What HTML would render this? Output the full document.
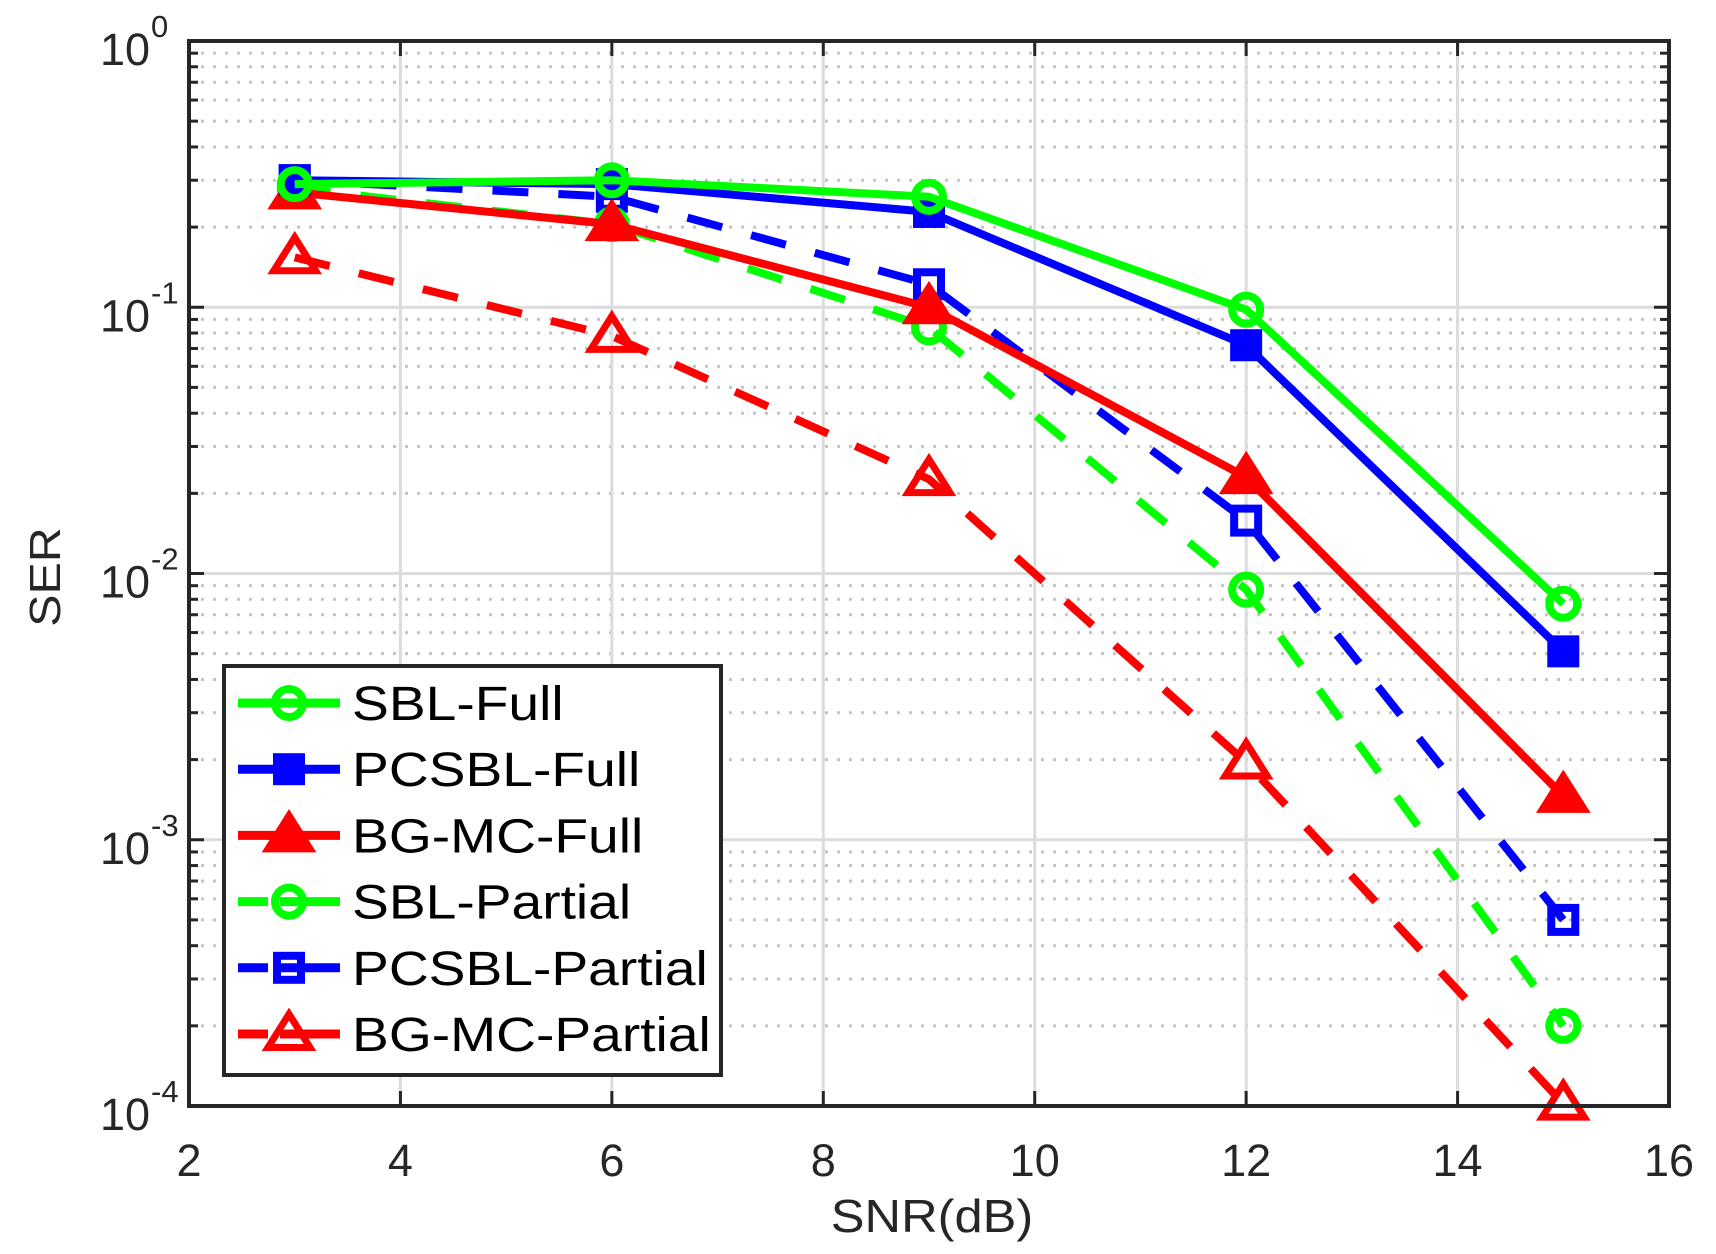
<!DOCTYPE html>
<html><head><meta charset="utf-8"><style>
html,body{margin:0;padding:0;background:#fff;}
svg{display:block;font-family:"Liberation Sans",Arial,sans-serif;}
</style></head><body>
<svg id="chart" width="1716" height="1254" viewBox="0 0 1716 1254" xmlns="http://www.w3.org/2000/svg">
<rect x="0" y="0" width="1716" height="1254" fill="#fff"/>
<g id="grid"></g>
<g id="series"></g>
<g id="axes"></g>
<g id="legend"></g>
<text x="0" y="0" font-size="46" fill="#262626" text-anchor="middle" transform="translate(932,1232) scale(1.1,1)">SNR(dB)</text>
<text x="0" y="0" font-size="44" fill="#262626" text-anchor="middle" transform="translate(60,577) rotate(-90) scale(1.1,1)">SER</text>
</svg>
<script>
const snr = [3, 6, 9, 12, 15];
const xTicks = [2, 4, 6, 8, 10, 12, 14, 16];
const yTickExps = [0, -1, -2, -3, -4];
const seriesNames = ["SBL-Full","PCSBL-Full","BG-MC-Full","SBL-Partial","PCSBL-Partial","BG-MC-Partial"];
const sblFull = [0.29, 0.30, 0.26, 0.098, 0.0077];
const pcsblFull = [0.30, 0.29, 0.228, 0.072, 0.0051];
const bgmcFull = [0.27, 0.205, 0.10, 0.023, 0.00146];
const sblPartial = [0.28, 0.205, 0.084, 0.0087, 0.0002];
const pcsblPartial = [0.30, 0.26, 0.122, 0.0158, 0.0005];
const bgmcPartial = [0.154, 0.078, 0.0226, 0.00195, 0.000102];

const NS = "http://www.w3.org/2000/svg";
const L = 189, R = 1669, T = 41, B = 1106;
const xMin = 2, xMax = 16, yMinE = -4, yMaxE = 0;
function xs(v){ return L + (v - xMin) / (xMax - xMin) * (R - L); }
function ys(v){ return B - (Math.log10(v) - yMinE) / (yMaxE - yMinE) * (B - T); }
function mk(tag, attrs, parent){ const e = document.createElementNS(NS, tag); for (const k in attrs) e.setAttribute(k, attrs[k]); parent.appendChild(e); return e; }

const grid = document.getElementById('grid');
const axes = document.getElementById('axes');
for (let e = yMinE; e < yMaxE; e++) {
  for (let m = 2; m <= 9; m++) {
    const y = ys(m * Math.pow(10, e));
    const g = mk('line', {x1:L, x2:R, y1:y, y2:y, stroke:'#c4c4c4', 'stroke-width':3, 'stroke-dasharray':'3 9'}, grid);
    
    
    const t1 = mk('line', {x1:L, x2:L+9, y1:y, y2:y, stroke:'#262626', 'stroke-width':3}, axes);
    
    
    const t2 = mk('line', {x1:R-9, x2:R, y1:y, y2:y, stroke:'#262626', 'stroke-width':3}, axes);
    
    
  }
}
yTickExps.forEach(e => {
  const y = ys(Math.pow(10, e));
  const g = mk('line', {x1:L, x2:R, y1:y, y2:y, stroke:'#dcdcdc', 'stroke-width':3}, grid);
  
  
  const t1 = mk('line', {x1:L, x2:L+15, y1:y, y2:y, stroke:'#262626', 'stroke-width':3}, axes);
  
  
  const t2 = mk('line', {x1:R-15, x2:R, y1:y, y2:y, stroke:'#262626', 'stroke-width':3}, axes);
  
  
  const tx = mk('text', {x:150, y:y+24, 'font-size':45, fill:'#262626', 'text-anchor':'end'}, axes);
  tx.textContent = '10';
  
  
  const sp = mk('text', {x:151, y:y-4, 'font-size':31, fill:'#262626', 'text-anchor':'start'}, axes);
  sp.textContent = e === 0 ? '0' : String(e);
  
  
});
xTicks.forEach(v => {
  const x = xs(v);
  const g = mk('line', {x1:x, x2:x, y1:T, y2:B, stroke:'#dcdcdc', 'stroke-width':3}, grid);
  
  
  const t1 = mk('line', {x1:x, x2:x, y1:B-15, y2:B, stroke:'#262626', 'stroke-width':3}, axes);
  
  
  const t2 = mk('line', {x1:x, x2:x, y1:T, y2:T+15, stroke:'#262626', 'stroke-width':3}, axes);
  
  
  const tx = mk('text', {x:x, y:1176, 'font-size':45, fill:'#262626', 'text-anchor':'middle'}, axes);
  tx.textContent = String(v);
  
  
});
const box = mk('rect', {x:L, y:T, width:R-L, height:B-T, fill:'none', stroke:'#262626', 'stroke-width':4}, axes);



const defs = [
  {vals: sblFull, color:'#00ff00', dash:null, marker:'circle', fill:false},
  {vals: pcsblFull, color:'#0000ff', dash:null, marker:'square', fill:true},
  {vals: bgmcFull, color:'#ff0000', dash:null, marker:'triangle', fill:true},
  {vals: sblPartial, color:'#00ff00', dash:'36 30', marker:'circle', fill:false},
  {vals: pcsblPartial, color:'#0000ff', dash:'36 30', marker:'square', fill:false},
  {vals: bgmcPartial, color:'#ff0000', dash:'36 30', marker:'triangle', fill:false}
];
function drawMarker(parent, type, cx, cy, color, fill, name){
  let e;
  if (type === 'circle') {
    e = mk('circle', {cx:cx, cy:cy, r:14, fill:'none', stroke:color, 'stroke-width':8}, parent);
  } else if (type === 'square') {
    e = mk('rect', {x:cx-12, y:cy-12, width:24, height:24, fill: fill ? color : 'none', stroke:color, 'stroke-width':8}, parent);
  } else {
    const h = 32, w = 42;
    e = mk('polygon', {points:`${cx},${cy-h*0.62} ${cx-w/2},${cy+h*0.42} ${cx+w/2},${cy+h*0.42}`, fill: fill ? color : 'none', stroke:color, 'stroke-width':7, 'stroke-linejoin':'miter'}, parent);
  }
  
  
}
const sg = document.getElementById('series');
const order = [5, 4, 3, 2, 1, 0];
order.forEach(i => {
  const d = defs[i];
  const g = mk('g', {}, sg);
  
  
  const pts = d.vals.map((v, j) => xs(snr[j]) + ',' + ys(v)).join(' ');
  const attrs = {points:pts, fill:'none', stroke:d.color, 'stroke-width':8, 'stroke-linejoin':'round'};
  if (d.dash) attrs['stroke-dasharray'] = d.dash;
  const pl = mk('polyline', attrs, g);
  
  
  d.vals.forEach((v, j) => drawMarker(g, d.marker, xs(snr[j]), ys(v), d.color, d.fill, 'marker-' + seriesNames[i].toLowerCase()));
});

const lg = document.getElementById('legend');
const lb = mk('rect', {x:224, y:666, width:497, height:409, fill:'#fff', stroke:'#262626', 'stroke-width':4}, lg);


seriesNames.forEach((n, i) => {
  const d = defs[i];
  const cy = 703 + i * 66.2;
  const g = mk('g', {}, lg);
  
  
  const a = {x1:238, x2:340, y1:cy, y2:cy, stroke:d.color, 'stroke-width':9};
  if (d.dash) a['stroke-dasharray'] = '30 12 60';
  const ln = mk('line', a, g);
  
  
  drawMarker(g, d.marker, 289, cy, d.color, d.fill, 'legend-marker');
  const t = mk('text', {x:0, y:0, 'font-size':48, fill:'#000', transform:`translate(352,${cy+17}) scale(1.15,1)`}, g);
  t.textContent = n;
  
  
});
</script>
</body></html>
